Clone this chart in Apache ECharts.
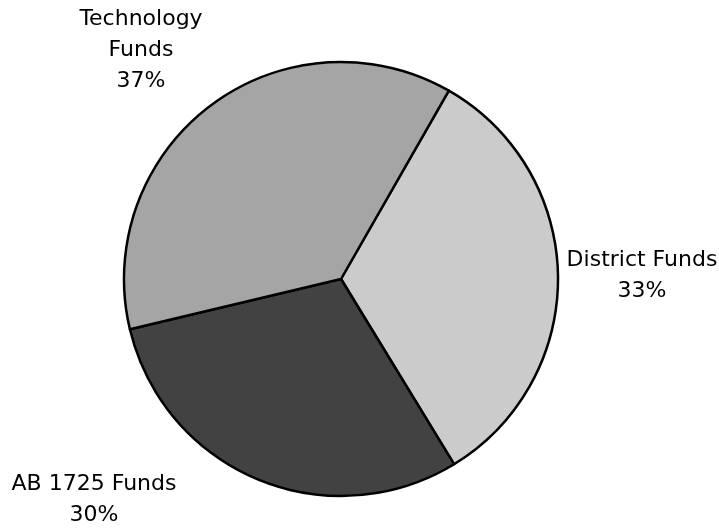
<!DOCTYPE html>
<html>
<head>
<meta charset="utf-8">
<style>
  html, body { margin: 0; padding: 0; background: #fff; }
  #chart { width: 719px; height: 529px; }
</style>
<script src="https://cdn.jsdelivr.net/npm/echarts@6/dist/echarts.min.js"></script>
</head>
<body>
<div id="chart"></div>
<script>
// slices, clockwise from the top-right boundary
const categories = ['District Funds', 'AB 1725 Funds', 'Technology Funds']
const values = [33, 30, 37]
const labelText = ['District Funds', 'AB 1725 Funds', 'Technology\nFunds']
const sliceColors = ['#cbcbcb', '#424242', '#a5a5a5']
// label centres (px)
const labelPos = [[642, 276], [94, 500], [141, 50]]

const chart = echarts.init(document.getElementById('chart'))

chart.setOption({
  backgroundColor: '#fff',
  animation: false,
  series: [
    {
      type: 'pie',
      center: [341, 279],
      radius: [0, 217],
      startAngle: 60.2,
      clockwise: true,
      itemStyle: {
        borderColor: '#000',
        borderWidth: 2.5
      },
      label: {
        show: true,
        position: 'outside',
        color: '#000',
        fontFamily: 'DejaVu Sans',
        fontSize: 22,
        lineHeight: 31,
        align: 'center',
        overflow: 'none',
        formatter: (p) => labelText[p.dataIndex] + '\n' + Math.round(p.percent) + '%'
      },
      labelLine: { show: false },
      labelLayout: (p) => ({
        x: labelPos[p.dataIndex][0],
        y: labelPos[p.dataIndex][1],
        align: 'center',
        verticalAlign: 'middle'
      }),
      emphasis: { disabled: true },
      data: categories.map((name, i) => ({
        name,
        value: values[i],
        itemStyle: { color: sliceColors[i] }
      }))
    }
  ]
})
</script>
</body>
</html>
